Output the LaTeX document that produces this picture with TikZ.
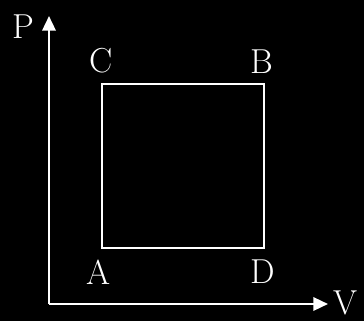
\documentclass[tikz,border=0pt]{standalone}
\usepackage{tikz}
\usetikzlibrary{arrows.meta, positioning}
\tikzset{
  axisline/.style={white, line width=1.8pt, -{Triangle[length=11pt, width=10pt]}},
  cycleline/.style={white, line width=1.7pt},
  statelabel/.style={white, font=\fontsize{26}{28}\selectfont, inner sep=0pt}
}
\begin{document}
\begin{tikzpicture}[x=0.75pt, y=-0.75pt]

% Background
\fill[black] (0,0) rectangle (364,321);
\useasboundingbox (0,0) rectangle (364,321);

% Axes
\coordinate (O) at (49,304);
\coordinate (Ptip) at (49,16);
\coordinate (Vtip) at (328,304);
\draw[axisline] (O) -- (Ptip);
\draw[axisline] (O) -- (Vtip);
\node[statelabel] (Plab) at (23,27) {P};
\node[statelabel] (Vlab) at (346,303) {V};

% Cycle corners
\coordinate (A) at (102,248);
\coordinate (B) at (264,84);
\coordinate (C) at (102,84);
\coordinate (D) at (264,248);
\draw[cycleline] (A) -- (C) -- (B) -- (D) -- cycle;

% Labels
\node[statelabel] (Clab) at (101,61) {C};
\node[statelabel] (Blab) at (262,62) {B};
\node[statelabel] (Alab) at (99,272) {A};
\node[statelabel] (Dlab) at (263,272) {D};

\end{tikzpicture}
\end{document}
